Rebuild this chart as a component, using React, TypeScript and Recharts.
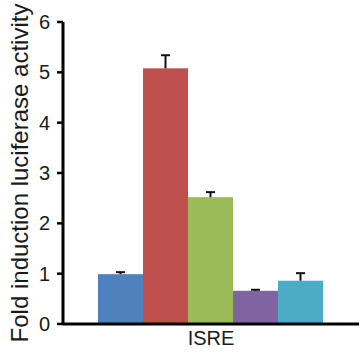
import React from 'react';
import { BarChart, Bar, XAxis, YAxis } from 'recharts';

const categories = ['ISRE'];
const seriesKeys = ['s1', 's2', 's3', 's4', 's5'];
const meanValues = [0.99, 5.08, 2.52, 0.66, 0.86];
const errorValues = [0.04, 0.26, 0.1, 0.02, 0.15];
const yTicks = [0, 1, 2, 3, 4, 5, 6];
const yLabel = 'Fold induction luciferase activity';

const seriesColors = ['#4F81BD', '#C0504D', '#9BBB59', '#8064A2', '#4BACC6'];

const data = categories.map((name) => {
  const row: Record<string, any> = { name };
  seriesKeys.forEach((k, i) => {
    row[k] = meanValues[i];
  });
  return row;
});

const FONT = '"Liberation Sans", Arial, Helvetica, sans-serif';

function BarWithError(props: any) {
  const { x, y, width, height, fill, value, err } = props;
  const v = Array.isArray(value) ? value[1] - value[0] : value;
  const pxPerUnit = v ? height / v : 0;
  const e = err * pxPerUnit;
  const cx = x + width / 2;
  return (
    <g>
      <rect x={x} y={y} width={width} height={height} fill={fill} />
      <line x1={cx} x2={cx} y1={y} y2={y - e} stroke="#111" strokeWidth={2} />
      <line x1={cx - 4.5} x2={cx + 4.5} y1={y - e} y2={y - e} stroke="#111" strokeWidth={2} />
    </g>
  );
}

function YLabel(props: any) {
  const vb = props.viewBox || {};
  const cx = vb.x + 19;
  const cy = vb.y + vb.height / 2;
  return (
    <text
      x={cx}
      y={cy}
      transform={`rotate(-90, ${cx}, ${cy})`}
      textAnchor="middle"
      dominantBaseline="central"
      fontFamily={FONT}
      fontSize={24}
      fill="#1a1a1a"
    >
      {yLabel}
    </text>
  );
}

export default function App() {
  return (
    <div style={{ position: 'absolute', left: 0, top: 0, width: 363, height: 356, background: '#fff' }}>
      <BarChart
        width={363}
        height={356}
        data={data}
        margin={{ top: 22, right: 4, bottom: 30, left: 0 }}
        barCategoryGap={35}
        barGap={0}
      >
        <XAxis
          xAxisId="edge"
          type="number"
          domain={[0, 1]}
          ticks={[0, 1]}
          height={1}
          axisLine={false}
          tick={false}
          tickSize={32}
          tickLine={{ stroke: '#000', strokeWidth: 3 }}
        />
        <XAxis
          xAxisId="cat"
          dataKey="name"
          height={1}
          tickLine={false}
          tickSize={0}
          tickMargin={7}
          axisLine={{ stroke: '#000', strokeWidth: 3 }}
          tick={{ fontFamily: FONT, fontSize: 20, fill: '#1a1a1a' }}
        />
        <YAxis
          width={63}
          domain={[0, 6]}
          ticks={yTicks}
          interval={0}
          tickSize={6}
          tickMargin={7}
          axisLine={{ stroke: '#000', strokeWidth: 3 }}
          tickLine={{ stroke: '#000', strokeWidth: 2.5 }}
          tick={{ fontFamily: FONT, fontSize: 20, fill: '#1a1a1a' }}
          label={{ content: <YLabel /> }}
        />
        {seriesKeys.map((k, i) => (
          <Bar
            key={k}
            xAxisId="cat"
            dataKey={k}
            fill={seriesColors[i]}
            isAnimationActive={false}
            shape={(p: any) => <BarWithError {...p} err={errorValues[i]} />}
          />
        ))}
      </BarChart>
    </div>
  );
}
